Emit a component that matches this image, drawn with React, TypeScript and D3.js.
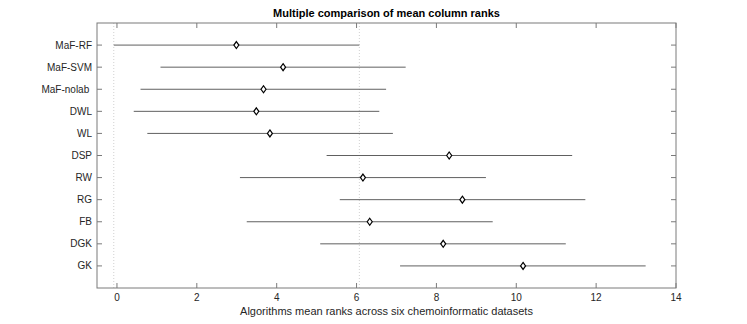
import React, { useEffect, useRef } from "react";
import * as d3 from "d3";

const groups = ["MaF-RF", "MaF-SVM", "MaF-nolab ", "DWL", "WL", "DSP", "RW", "RG", "FB", "DGK", "GK"];
const means = [2.99, 4.16, 3.67, 3.49, 3.83, 8.32, 6.16, 8.65, 6.33, 8.17, 10.17];
const lows = [-0.08, 1.09, 0.59, 0.42, 0.76, 5.25, 3.08, 5.58, 3.25, 5.09, 7.09];
const highs = [6.07, 7.23, 6.74, 6.57, 6.91, 11.4, 9.24, 11.73, 9.41, 11.24, 13.24];
const xTicks = [0, 2, 4, 6, 8, 10, 12, 14];

const width = 747;
const height = 324;
const margin = { top: 23, right: 71, bottom: 36, left: 97 };

export default function App() {
  const ref = useRef<SVGSVGElement>(null);

  useEffect(() => {
    const svg = d3.select(ref.current);
    svg.selectAll("*").remove();
    const iw = width - margin.left - margin.right;
    const ih = height - margin.top - margin.bottom;

    const x = d3.scaleLinear().domain([-0.5, 14]).range([0, iw]);
    const y = d3.scaleLinear().domain([0, groups.length + 1]).range([0, ih]);

    const g = svg
      .append("g")
      .attr("transform", `translate(${margin.left},${margin.top})`)
      .attr("font-family", "'Liberation Sans', Arial, sans-serif");

    // dotted reference lines for the first group
    [lows[0], highs[0]].forEach((v) => {
      g.append("line")
        .attr("x1", x(v))
        .attr("x2", x(v))
        .attr("y1", 0)
        .attr("y2", ih)
        .attr("stroke", "#d0d0d0")
        .attr("stroke-dasharray", "1,2");
    });

    // axes box with inward ticks
    const axisColor = "#7a7a7a";
    g.append("rect")
      .attr("width", iw)
      .attr("height", ih)
      .attr("fill", "none")
      .attr("stroke", axisColor);

    const tl = 5;
    xTicks.forEach((t) => {
      g.append("line").attr("x1", x(t)).attr("x2", x(t)).attr("y1", ih).attr("y2", ih - tl).attr("stroke", axisColor);
      g.append("line").attr("x1", x(t)).attr("x2", x(t)).attr("y1", 0).attr("y2", tl).attr("stroke", axisColor);
      g.append("text")
        .attr("x", x(t))
        .attr("y", ih + 13)
        .attr("text-anchor", "middle")
        .attr("font-size", 10)
        .attr("fill", "#262626")
        .text(t);
    });

    groups.forEach((name, i) => {
      const yy = y(i + 1);
      g.append("line").attr("x1", 0).attr("x2", tl).attr("y1", yy).attr("y2", yy).attr("stroke", axisColor);
      g.append("line").attr("x1", iw).attr("x2", iw - tl).attr("y1", yy).attr("y2", yy).attr("stroke", axisColor);
      g.append("text")
        .attr("x", -5)
        .attr("y", yy)
        .attr("dy", "0.35em")
        .attr("text-anchor", "end")
        .attr("font-size", 10)
        .attr("fill", "#262626")
        .style("white-space", "pre")
        .text(name);
    });

    // intervals
    const rows = g
      .selectAll("g.row")
      .data(groups.map((n, i) => ({ n, i, m: means[i], lo: lows[i], hi: highs[i] })))
      .join("g")
      .attr("class", "row")
      .attr("transform", (d) => `translate(0,${y(d.i + 1)})`);

    rows
      .append("line")
      .attr("x1", (d) => x(d.lo))
      .attr("x2", (d) => x(d.hi))
      .attr("stroke", "#606060")
      .attr("stroke-width", 1);

    rows
      .append("path")
      .attr("d", (d) => {
        const cx = x(d.m);
        return `M${cx},-3.5L${cx + 2.5},0L${cx},3.5L${cx - 2.5},0Z`;
      })
      .attr("fill", "white")
      .attr("stroke", "black")
      .attr("stroke-width", 1.2);

    g.append("text")
      .attr("x", iw / 2)
      .attr("y", -6)
      .attr("text-anchor", "middle")
      .attr("font-size", 11)
      .attr("font-weight", "bold")
      .attr("fill", "black")
      .text("Multiple comparison of mean column ranks");

    g.append("text")
      .attr("x", iw / 2)
      .attr("y", ih + 27)
      .attr("text-anchor", "middle")
      .attr("font-size", 11)
      .attr("fill", "#262626")
      .text("Algorithms mean ranks across six chemoinformatic datasets");
  }, []);

  return (
    <svg
      ref={ref}
      width={width}
      height={height}
      style={{ position: "absolute", left: 0, top: 0, background: "white" }}
    />
  );
}
